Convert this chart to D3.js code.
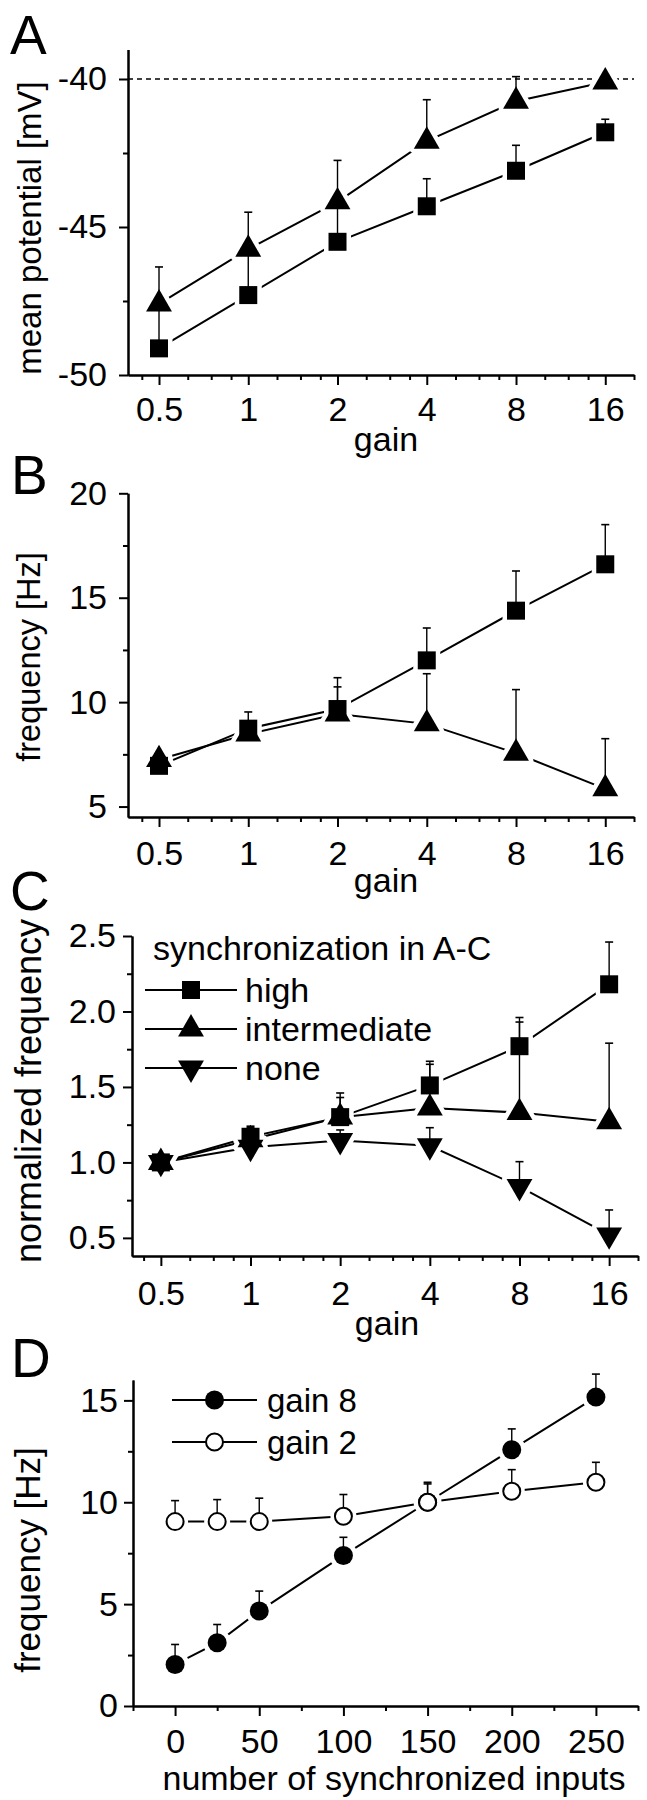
<!DOCTYPE html>
<html>
<head>
<meta charset="utf-8">
<script src="https://cdn.jsdelivr.net/npm/d3@7"></script>
<style>
body { margin: 0; background: #fff; }
svg text { font-family: "Liberation Sans", Arial, Helvetica, sans-serif; fill: #000; }
</style>
</head>
<body>
<svg id="fig" width="647" height="1800"></svg>
<script>
// ---- data ----
var gains = [0.5, 1, 2, 4, 8, 16];
var gainLabels = ["0.5", "1", "2", "4", "8", "16"];

// A: mean potential [mV], mean and upper error (SEM)
var potHigh = [-49.1, -47.3, -45.5, -44.3, -43.1, -41.8];
var potHighSem = [1.3, 1.4, 1.2, 0.93, 0.86, 0.44];
var potInter = [-47.6, -45.75, -44.15, -42.1, -40.75, -40.1];
var potInterSem = [1.25, 1.25, 1.4, 1.4, 0.83, 0.1];
var potTicks = [-50, -45, -40];
var potTickLabels = ["-50", "-45", "-40"];
var potMinor = [-47.5, -42.5];

// B: frequency [Hz]
var freqHigh = [6.95, 8.73, 9.67, 12.0, 14.38, 16.6];
var freqHighSem = [0.3, 0.8, 1.5, 1.55, 1.9, 1.9];
var freqInter = [7.25, 8.47, 9.43, 8.96, 7.55, 5.85];
var freqInterSem = [0.25, 0.5, 1.3, 2.4, 3.05, 2.4];
var freqTicks = [5, 10, 15, 20];
var freqTickLabels = ["5", "10", "15", "20"];
var freqMinor = [7.5, 12.5, 17.5];

// C: normalized frequency
var normHigh = [1.0, 1.17, 1.30, 1.51, 1.77, 2.18];
var normHighSem = [0, 0.07, 0.16, 0.16, 0.19, 0.28];
var normInter = [1.0, 1.15, 1.30, 1.36, 1.33, 1.27];
var normInterSem = [0, 0.08, 0.13, 0.29, 0.6, 0.52];
var normNone = [1.0, 1.10, 1.145, 1.11, 0.84, 0.52];
var normNoneSem = [0, 0.06, 0.07, 0.12, 0.165, 0.165];
var normTicks = [0.5, 1.0, 1.5, 2.0, 2.5];
var normTickLabels = ["0.5", "1.0", "1.5", "2.0", "2.5"];
var normMinor = [0.75, 1.25, 1.75, 2.25];
var syncLevels = ["high", "intermediate", "none"];

// D: frequency vs number of synchronized inputs
var syncInputs = [0, 25, 50, 100, 150, 200, 250];
var freqGain8 = [2.04, 3.1, 4.66, 7.39, 10.0, 12.58, 15.16];
var freqGain8Sem = [0.98, 0.9, 0.98, 0.89, 0.9, 1.02, 1.13];
var freqGain2 = [9.05, 9.05, 9.05, 9.31, 10.0, 10.54, 10.98];
var freqGain2Sem = [1.03, 1.08, 1.15, 1.07, 0.98, 1.06, 0.98];
var inputTicks = [0, 50, 100, 150, 200, 250];
var inputTickLabels = ["0", "50", "100", "150", "200", "250"];
var inputMinor = [-25, 25, 75, 125, 175, 225, 275];
var freqDTicks = [0, 5, 10, 15];
var freqDTickLabels = ["0", "5", "10", "15"];
var freqDMinor = [2.5, 7.5, 12.5];

// minor ticks on the gain axis: quarter steps inside each octave
var gainMinor = [];
[0.25, 0.5, 1, 2, 4, 8, 16].forEach(function(b) {
	[1.25, 1.5, 1.75].forEach(function(m) {
		if (b * m > 0.4 && b * m <= 20) gainMinor.push(b * m);
	});
});

var FONT = 34;
var svg = d3.select("#fig");

var sqr = d3.symbol(d3.symbolSquare, 18 * 18)();
var tri = d3.symbol(d3.symbolTriangle, 290)();
var dot = d3.symbol(d3.symbolCircle, Math.PI * 9.5 * 9.5)();
var ring = d3.symbol(d3.symbolCircle, Math.PI * 8.5 * 8.5)();

function styleAxis(g) {
	g.attr("font-size", FONT).attr("font-family", null);
	g.selectAll("path.domain").attr("stroke", "#000").attr("stroke-width", 2);
	g.selectAll(".tick line").attr("stroke", "#000").attr("stroke-width", 2);
}

function drawAxes(p) {
	var axisY = p.y.range()[0];
	var axisX = p.x.range()[0];
	var g = svg.append("g");

	g.append("g").attr("transform", "translate(0," + axisY + ")")
		.call(d3.axisBottom(p.x).tickValues(p.xMinor).tickSize(5).tickSizeOuter(0).tickFormat(""))
		.call(styleAxis);
	g.append("g").attr("transform", "translate(0," + axisY + ")")
		.call(d3.axisBottom(p.x).tickValues(p.xTicks).tickSize(10).tickSizeOuter(0)
			.tickPadding(p.xPad).tickFormat(function(d, i) { return p.xLabels[i]; }))
		.call(styleAxis);

	g.append("g").attr("transform", "translate(" + axisX + ",0)")
		.call(d3.axisLeft(p.y).tickValues(p.yMinor).tickSize(5).tickSizeOuter(0).tickFormat(""))
		.call(styleAxis);
	g.append("g").attr("transform", "translate(" + axisX + ",0)")
		.call(d3.axisLeft(p.y).tickValues(p.yTicks).tickSize(9).tickSizeOuter(0)
			.tickPadding(p.yPad).tickFormat(function(d, i) { return p.yLabels[i]; }))
		.call(styleAxis);

	// axis titles
	svg.append("text").attr("x", p.xTitleX).attr("y", p.xTitleY)
		.attr("text-anchor", "middle").attr("font-size", p.xTitleSize || FONT).text(p.xTitle);
	svg.append("text")
		.attr("transform", "translate(" + p.yTitleX + "," + p.yTitleY + ") rotate(-90)")
		.attr("text-anchor", "middle").attr("font-size", p.yTitleSize).text(p.yTitle);

	// panel letter
	svg.append("text").attr("x", p.letterX).attr("y", p.letterY)
		.attr("font-size", 55).text(p.letter);
}

function drawSeries(p, list) {
	var g = svg.append("g");
	var line = d3.line().x(function(d) { return p.x(d.x); }).y(function(d) { return p.y(d.y); });
	list.forEach(function(s) {
		s.pts = s.xs.map(function(x, i) { return {x: x, y: s.ys[i], e: s.sem[i]}; });
		g.append("path").datum(s.pts).attr("d", line)
			.attr("fill", "none").attr("stroke", "#000").attr("stroke-width", 2);
	});
	function place(s) {
		return function(d) {
			return "translate(" + p.x(d.x) + "," + p.y(d.y) + ") rotate(" + (s.rot || 0) + ")";
		};
	}
	// white halo so the connecting lines stop short of the markers
	list.forEach(function(s) {
		g.selectAll(null).data(s.pts).enter().append("path")
			.attr("d", s.shape).attr("transform", place(s))
			.attr("fill", "#fff").attr("stroke", "#fff").attr("stroke-width", 9)
			.attr("stroke-linejoin", "round");
	});
	// upper error bars
	list.forEach(function(s) {
		var eb = g.selectAll(null).data(s.pts.filter(function(d) { return d.e > 0; })).enter().append("g");
		eb.append("line")
			.attr("x1", function(d) { return p.x(d.x); }).attr("x2", function(d) { return p.x(d.x); })
			.attr("y1", function(d) { return p.y(d.y); }).attr("y2", function(d) { return p.y(d.y + d.e); })
			.attr("stroke", "#000").attr("stroke-width", 1.4);
		eb.append("line")
			.attr("x1", function(d) { return p.x(d.x) - 4; }).attr("x2", function(d) { return p.x(d.x) + 4; })
			.attr("y1", function(d) { return p.y(d.y + d.e); }).attr("y2", function(d) { return p.y(d.y + d.e); })
			.attr("stroke", "#000").attr("stroke-width", 1.6);
	});
	list.forEach(function(s) {
		g.selectAll(null).data(s.pts).enter().append("path")
			.attr("d", s.shape).attr("transform", place(s))
			.attr("fill", s.fill || "#000").attr("stroke", "#000").attr("stroke-width", s.sw || 0);
	});
}

function drawLegend(items, x0, x1, xText, size) {
	var g = svg.append("g");
	items.forEach(function(it) {
		g.append("line").attr("x1", x0).attr("x2", x1).attr("y1", it.y).attr("y2", it.y)
			.attr("stroke", "#000").attr("stroke-width", 2);
		g.append("path").attr("d", it.shape)
			.attr("transform", "translate(" + ((x0 + x1) / 2) + "," + it.y + ") rotate(" + (it.rot || 0) + ")")
			.attr("fill", it.fill || "#000").attr("stroke", "#000").attr("stroke-width", it.sw || 0);
		g.append("text").attr("x", xText).attr("y", it.y + 12).attr("font-size", size).text(it.label);
	});
}

// ---- panel A ----
var xA = d3.scaleLog().base(2).domain([0.393, 20]).range([128, 634]);
var yA = d3.scaleLinear().domain([-50, -39]).range([375, 49.4]);
var pA = {x: xA, y: yA, xTicks: gains, xLabels: gainLabels, xMinor: gainMinor, xPad: 12,
	yTicks: potTicks, yLabels: potTickLabels, yMinor: potMinor, yPad: 12,
	xTitle: "gain", xTitleX: 386, xTitleY: 451,
	yTitle: "mean potential [mV]", yTitleX: 41, yTitleY: 228, yTitleSize: 33,
	letter: "A", letterX: 10, letterY: 54};
drawAxes(pA);
svg.append("line").attr("x1", xA.range()[0]).attr("x2", xA.range()[1])
	.attr("y1", yA(-40)).attr("y2", yA(-40))
	.attr("stroke", "#000").attr("stroke-width", 1.6).attr("stroke-dasharray", "5,4");
drawSeries(pA, [
	{xs: gains, ys: potHigh, sem: potHighSem, shape: sqr},
	{xs: gains, ys: potInter, sem: potInterSem, shape: tri}
]);

// ---- panel B ----
var xB = d3.scaleLog().base(2).domain([0.393, 20]).range([128, 634]);
var yB = d3.scaleLinear().domain([4.5, 20]).range([817, 493.3]);
var pB = {x: xB, y: yB, xTicks: gains, xLabels: gainLabels, xMinor: gainMinor, xPad: 14,
	yTicks: freqTicks, yLabels: freqTickLabels, yMinor: freqMinor, yPad: 12,
	xTitle: "gain", xTitleX: 386, xTitleY: 892,
	yTitle: "frequency [Hz]", yTitleX: 40, yTitleY: 657, yTitleSize: 32.5,
	letter: "B", letterX: 11, letterY: 494};
drawAxes(pB);
drawSeries(pB, [
	{xs: gains, ys: freqInter, sem: freqInterSem, shape: tri},
	{xs: gains, ys: freqHigh, sem: freqHighSem, shape: sqr}
]);

// ---- panel C ----
var xC = d3.scaleLog().base(2).domain([0.4, 20]).range([132, 638]);
var yC = d3.scaleLinear().domain([0.38, 2.5]).range([1256, 936]);
var pC = {x: xC, y: yC, xTicks: gains, xLabels: gainLabels, xMinor: gainMinor, xPad: 15,
	yTicks: normTicks, yLabels: normTickLabels, yMinor: normMinor, yPad: 7,
	xTitle: "gain", xTitleX: 387, xTitleY: 1335,
	yTitle: "normalized frequency", yTitleX: 41, yTitleY: 1091, yTitleSize: 36,
	letter: "C", letterX: 10, letterY: 910};
drawAxes(pC);
drawSeries(pC, [
	{xs: gains, ys: normNone, sem: normNoneSem, shape: tri, rot: 180},
	{xs: gains, ys: normInter, sem: normInterSem, shape: tri},
	{xs: gains, ys: normHigh, sem: normHighSem, shape: sqr}
]);
svg.append("text").attr("x", 153).attr("y", 960).attr("font-size", 34)
	.text("synchronization in A-C");
drawLegend([
	{y: 990, shape: sqr, label: syncLevels[0]},
	{y: 1029, shape: tri, label: syncLevels[1]},
	{y: 1068, shape: tri, rot: 180, label: syncLevels[2]}
], 145, 237, 245, 34);

// ---- panel D ----
var xD = d3.scaleLinear().domain([-25, 275]).range([133, 638]);
var yD = d3.scaleLinear().domain([0, 16]).range([1706, 1380]);
var pD = {x: xD, y: yD, xTicks: inputTicks, xLabels: inputTickLabels, xMinor: inputMinor, xPad: 13,
	yTicks: freqDTicks, yLabels: freqDTickLabels, yMinor: freqDMinor, yPad: 6,
	xTitle: "number of synchronized inputs", xTitleX: 394, xTitleY: 1790, xTitleSize: 34,
	yTitle: "frequency [Hz]", yTitleX: 40, yTitleY: 1560, yTitleSize: 35,
	letter: "D", letterX: 11, letterY: 1377};
drawAxes(pD);
drawSeries(pD, [
	{xs: syncInputs, ys: freqGain8, sem: freqGain8Sem, shape: dot},
	{xs: syncInputs, ys: freqGain2, sem: freqGain2Sem, shape: ring, fill: "#fff", sw: 2}
]);
drawLegend([
	{y: 1400, shape: dot, label: "gain 8"},
	{y: 1442, shape: ring, fill: "#fff", sw: 2, label: "gain 2"}
], 172, 257, 267, 33);
</script>
</body>
</html>
